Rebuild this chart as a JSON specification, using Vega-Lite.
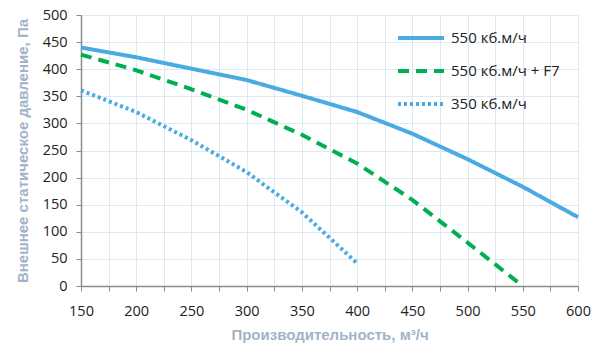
{
  "$schema": "https://vega.github.io/schema/vega-lite/v6.json",
  "width": 497,
  "height": 271,
  "autosize": {"type": "none"},
  "padding": {"left": 81, "top": 15, "right": 22, "bottom": 74},
  "background": "white",
  "config": {
    "view": {"stroke": null},
    "font": "Open Sans"
  },
  "data": {
    "values": [
      {"q": 150, "p": 440, "s": "550 кб.м/ч"},
      {"q": 200, "p": 422, "s": "550 кб.м/ч"},
      {"q": 250, "p": 401, "s": "550 кб.м/ч"},
      {"q": 300, "p": 380, "s": "550 кб.м/ч"},
      {"q": 350, "p": 351, "s": "550 кб.м/ч"},
      {"q": 400, "p": 321, "s": "550 кб.м/ч"},
      {"q": 450, "p": 281, "s": "550 кб.м/ч"},
      {"q": 500, "p": 234, "s": "550 кб.м/ч"},
      {"q": 550, "p": 183, "s": "550 кб.м/ч"},
      {"q": 600, "p": 127, "s": "550 кб.м/ч"},
      {"q": 150, "p": 427, "s": "550 кб.м/ч + F7"},
      {"q": 200, "p": 398, "s": "550 кб.м/ч + F7"},
      {"q": 250, "p": 363, "s": "550 кб.м/ч + F7"},
      {"q": 300, "p": 325, "s": "550 кб.м/ч + F7"},
      {"q": 350, "p": 279, "s": "550 кб.м/ч + F7"},
      {"q": 400, "p": 226, "s": "550 кб.м/ч + F7"},
      {"q": 450, "p": 159, "s": "550 кб.м/ч + F7"},
      {"q": 500, "p": 80, "s": "550 кб.м/ч + F7"},
      {"q": 550, "p": 0, "s": "550 кб.м/ч + F7"},
      {"q": 150, "p": 361, "s": "350 кб.м/ч"},
      {"q": 200, "p": 321, "s": "350 кб.м/ч"},
      {"q": 250, "p": 269, "s": "350 кб.м/ч"},
      {"q": 300, "p": 210, "s": "350 кб.м/ч"},
      {"q": 350, "p": 136, "s": "350 кб.м/ч"},
      {"q": 400, "p": 42, "s": "350 кб.м/ч"}
    ]
  },
  "mark": {"type": "line", "strokeCap": "butt", "strokeJoin": "round"},
  "encoding": {
    "x": {
      "field": "q", "type": "quantitative",
      "scale": {"domain": [150, 600], "nice": false, "zero": false},
      "axis": {
        "title": "Производительность, м³/ч",
        "values": [150,175,200,225,250,275,300,325,350,375,400,425,450,475,500,525,550,575,600],
        "labelExpr": "datum.value % 50 == 0 ? datum.label : ''",
        "labelFlush": false, "labelOverlap": false,
        "labelFontSize": 14.5, "labelColor": "#222222", "labelFont": "Open Sans",
        "labelPadding": 13, "tickSize": 5, "tickColor": "#8c8c8c", "domainColor": "#8c8c8c",
        "domainWidth": 1.5,
        "gridColor": "#dde8f5", "grid": true,
        "titleFont": "Liberation Sans", "titleFontSize": 15, "titleFontWeight": "bold",
        "titleColor": "#a3b3c7", "titlePadding": 10
      }
    },
    "y": {
      "field": "p", "type": "quantitative",
      "scale": {"domain": [0, 500], "nice": false},
      "axis": {
        "title": "Внешнее статическое давление, Па",
        "values": [0,50,100,150,200,250,300,350,400,450,500],
        "labelFlush": false, "labelOverlap": false,
        "labelFontSize": 14.5, "labelColor": "#222222", "labelFont": "Open Sans",
        "labelPadding": 9, "tickSize": 5, "tickColor": "#8c8c8c", "domainColor": "#8c8c8c",
        "domainWidth": 1.5,
        "gridColor": "#dde8f5", "grid": true,
        "titleFont": "Liberation Sans", "titleFontSize": 15, "titleFontWeight": "bold",
        "titleColor": "#a3b3c7", "titlePadding": 12
      }
    },
    "color": {
      "field": "s", "type": "nominal",
      "scale": {"domain": ["550 кб.м/ч", "550 кб.м/ч + F7", "350 кб.м/ч"], "range": ["#4aaae2", "#00b050", "#4aaae2"]},
      "legend": {
        "title": null, "orient": "none", "legendX": 315, "legendY": -2,
        "padding": 0,
        "symbolType": "stroke", "symbolSize": 2116, "symbolStrokeWidth": 4,
        "labelFontSize": 15, "labelColor": "#222222", "labelFont": "Open Sans",
        "labelOffset": 5, "rowPadding": -14
      }
    },
    "strokeDash": {
      "field": "s", "type": "nominal",
      "scale": {"domain": ["550 кб.м/ч", "550 кб.м/ч + F7", "350 кб.м/ч"], "range": [[1, 0], [11, 7], [3, 3]]},
      "legend": {
        "title": null, "orient": "none", "legendX": 315, "legendY": -2,
        "padding": 0,
        "symbolType": "stroke", "symbolSize": 2116, "symbolStrokeWidth": 4,
        "labelFontSize": 15, "labelColor": "#222222", "labelFont": "Open Sans",
        "labelOffset": 5, "rowPadding": -14
      }
    },
    "strokeWidth": {
      "field": "s", "type": "nominal",
      "scale": {"domain": ["550 кб.м/ч", "550 кб.м/ч + F7", "350 кб.м/ч"], "range": [4, 4, 3.5]},
      "legend": null
    }
  }
}
